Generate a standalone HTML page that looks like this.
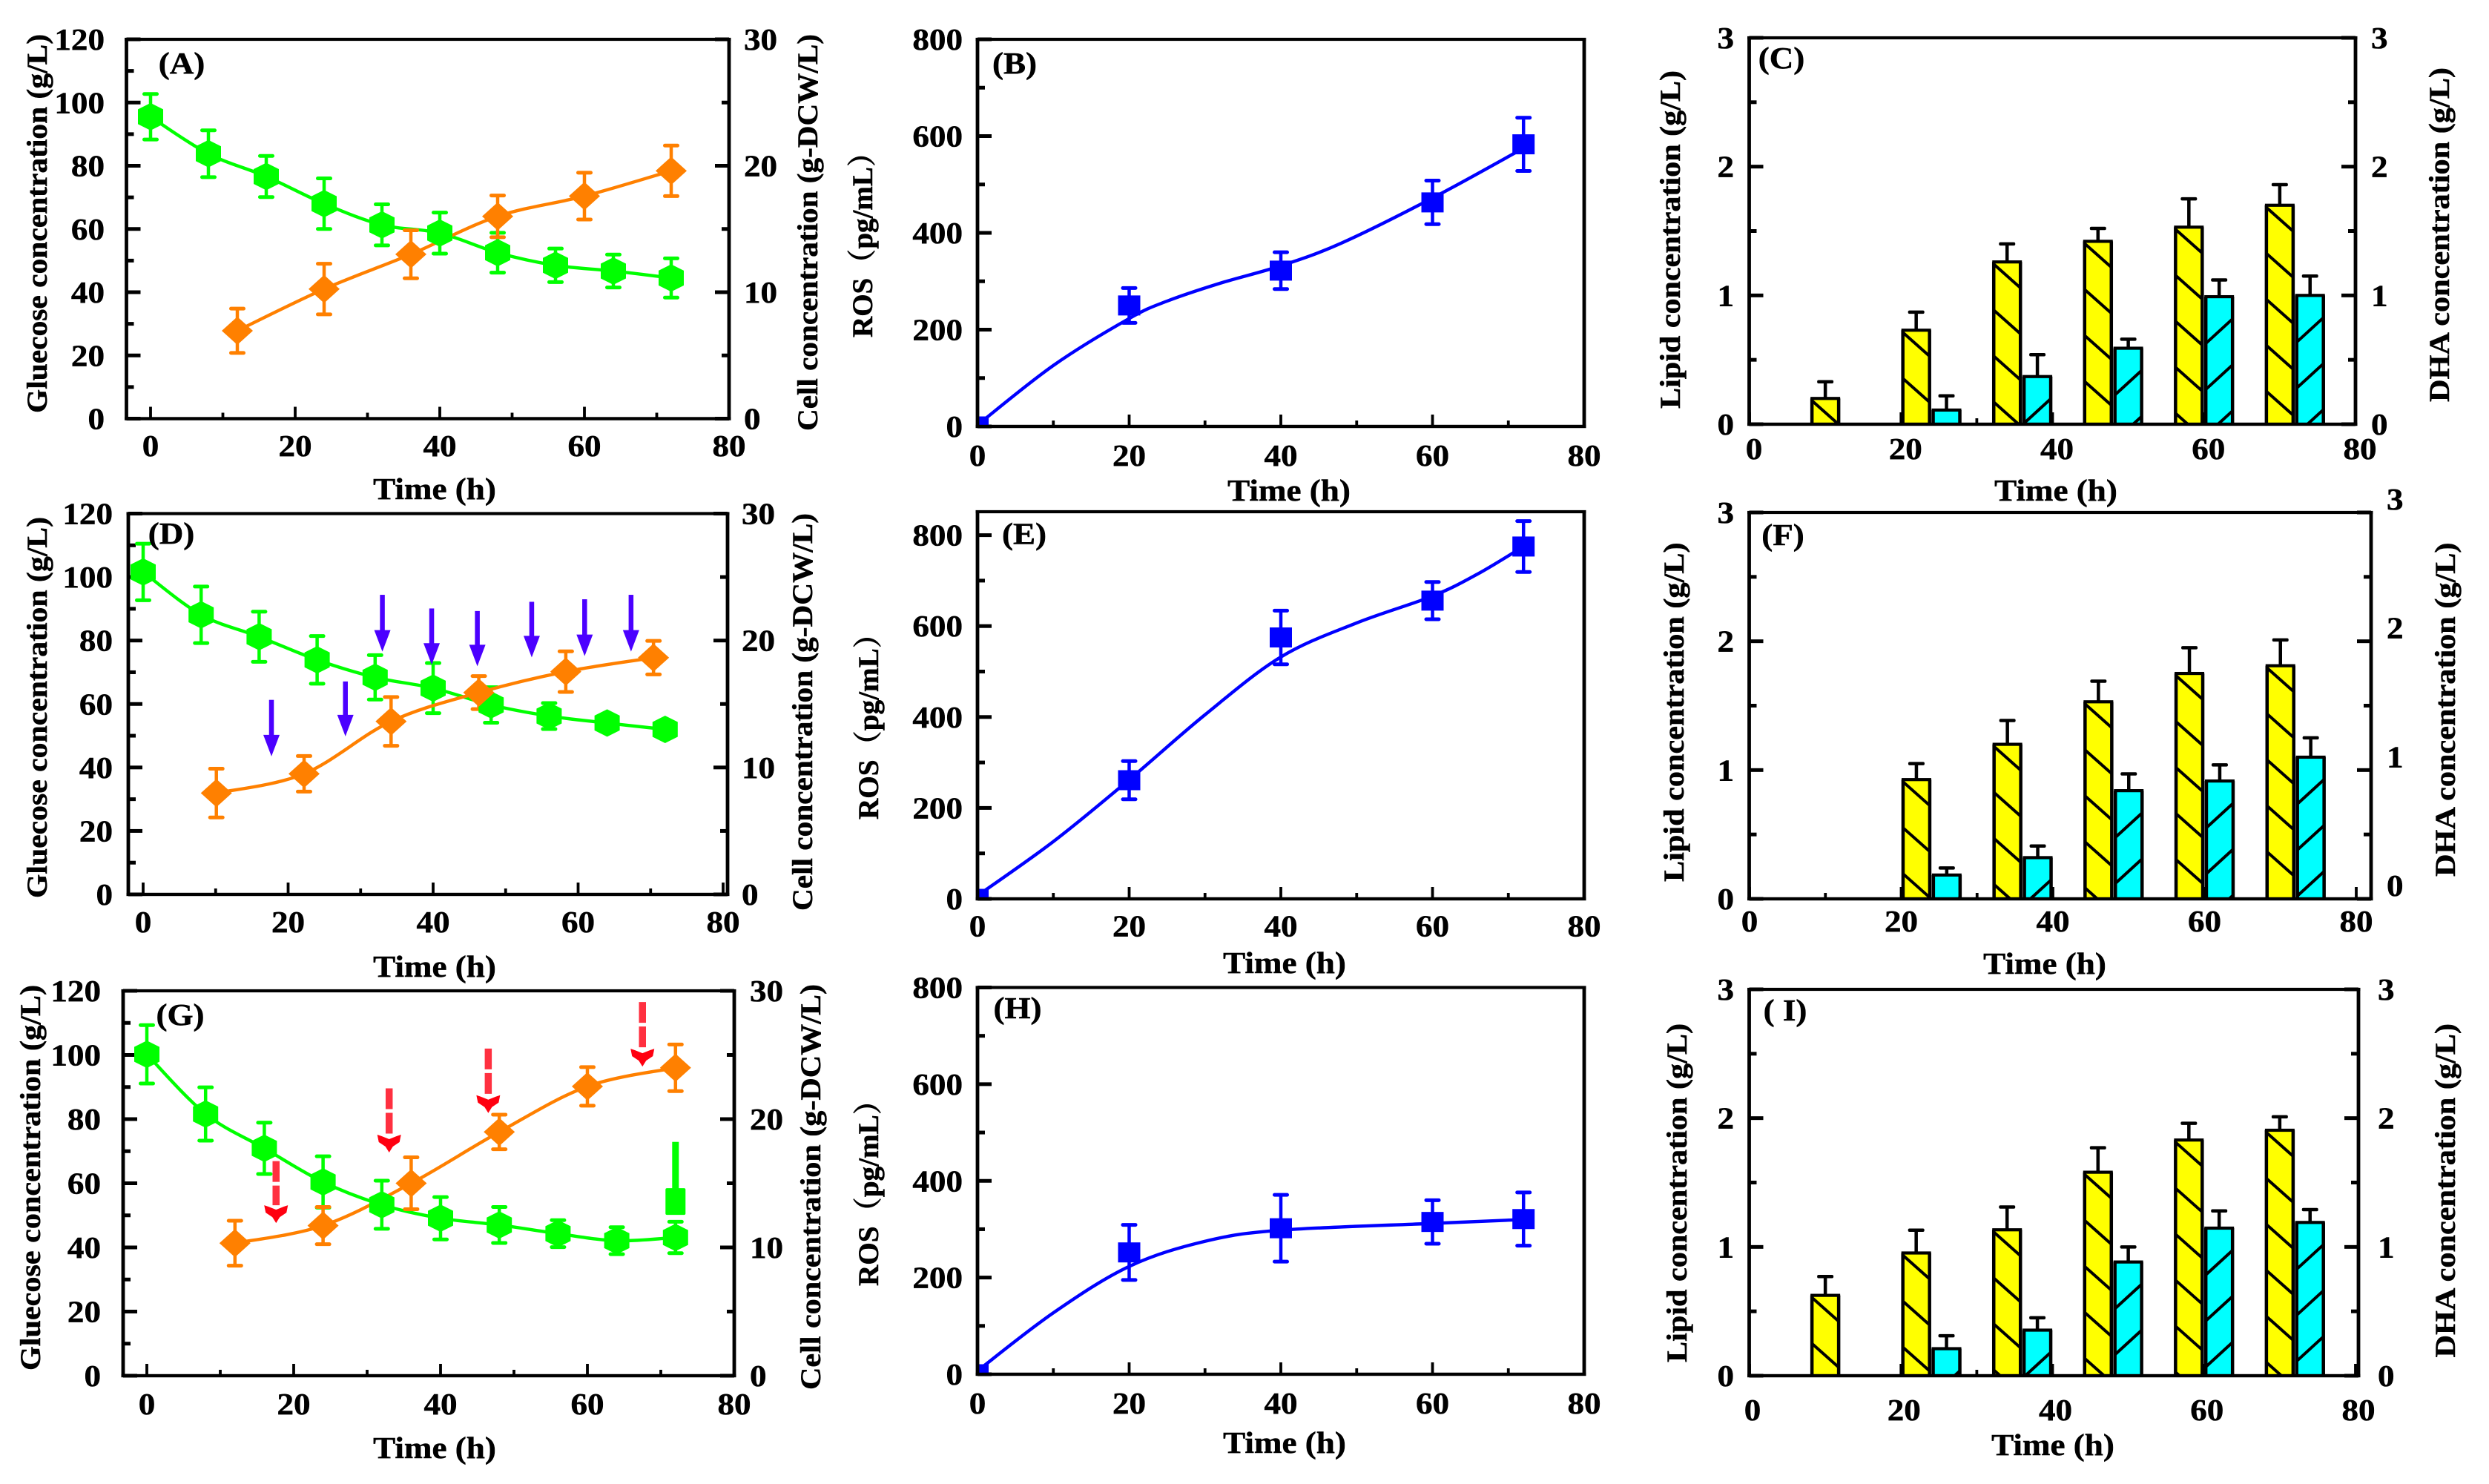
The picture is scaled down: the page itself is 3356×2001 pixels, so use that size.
<!DOCTYPE html>
<html lang="en">
<head>
<meta charset="utf-8">
<title>Fermentation time courses</title>
<style>
html,body{margin:0;padding:0;background:#fff;}
svg{display:block;}
text{font-family:"Liberation Serif","Noto Serif CJK SC",serif;font-weight:bold;fill:#000;stroke:#000;stroke-width:0.5px;}
</style>
</head>
<body>
<svg id="chart" xmlns="http://www.w3.org/2000/svg" width="3356" height="2001" viewBox="0 0 3356 2001">
<rect x="0" y="0" width="3356" height="2001" fill="#fff"/>
</svg>
<script>
// ---- shared tick data
const xMajorTicks = [0, 20, 40, 60, 80];
const xMinorTicks = [10, 30, 50, 70];
const glucoseMajorTicks = [0, 20, 40, 60, 80, 100, 120];
const glucoseMinorTicks = [10, 30, 50, 70, 90, 110];
const cellMajorTicks = [0, 10, 20, 30];
const cellMinorTicks = [5, 15, 25];
const rosMajorTicks = [0, 200, 400, 600, 800];
const rosMinorTicks = [100, 300, 500, 700];
const lipidMajorTicks = [0, 1, 2, 3];
const lipidMinorTicks = [0.5, 1.5, 2.5];

// ---- panel A
const aGlucoseTime = [0, 8, 16, 24, 32, 40, 48, 56, 64, 72];
const aGlucose = [95.5, 83.8, 76.6, 68, 61.3, 58.7, 52.5, 48.5, 46.7, 44.5];
const aGlucoseErr = [7.2, 7.4, 6.5, 8, 6.5, 6.5, 6.3, 5.3, 5.2, 6.2];
const aCellTime = [12, 24, 36, 48, 60, 72];
const aCell = [6.95, 10.25, 13, 16, 17.6, 19.6];
const aCellErr = [1.75, 2, 1.9, 1.65, 1.85, 2];

// ---- panel D
const dGlucoseTime = [0, 8, 16, 24, 32, 40, 48, 56, 64, 72];
const dGlucose = [101.6, 88.1, 81.2, 73.9, 68.4, 65, 59.7, 56.2, 54, 52];
const dGlucoseErr = [8.9, 8.9, 7.9, 7.5, 7, 7.9, 5.6, 4.1, 1.5, 1];
const dCellTime = [10.1, 22.2, 34.2, 46.3, 58.3, 70.4];
const dCell = [7.98, 9.5, 13.63, 15.9, 17.55, 18.65];
const dCellErr = [1.92, 1.4, 1.92, 1.3, 1.6, 1.32];
const dArrowTime = [17.7, 27.9, 33, 39.8, 46.1, 53.6, 60.9, 67.3];
const dArrowFrom = [61.3, 67.1, 94.4, 90.1, 89.3, 92.2, 93, 94.4];
const dArrowTo = [43.5, 49.8, 76.5, 72.4, 71.9, 74.7, 75.1, 76.5];

// ---- panel G
const gGlucoseTime = [0, 8, 16, 24, 32, 40, 48, 56, 64, 72];
const gGlucose = [100.2, 81.6, 70.9, 60.4, 53.3, 49.1, 47, 44.3, 42.1, 43.1];
const gGlucoseErr = [9.1, 8.3, 8, 8, 7.5, 6.6, 5.6, 4.2, 4.2, 4.9];
const gCellTime = [12, 24, 36, 48, 60, 72];
const gCell = [10.33, 11.7, 15, 19, 22.55, 24];
const gCellErr = [1.75, 1.45, 2.02, 1.35, 1.5, 1.82];
const gArrowTime = [17.6, 33, 46.5, 67.5];
const gArrowFrom = [66.9, 89.6, 102, 116.5];
const gArrowTo = [47.6, 69.6, 81.9, 96.4];
const gExtraTime = [72];
const gExtraValue = [54.3];
const gExtraTop = [72.9];

// ---- panels B, E, H
const rosTime = [0, 20, 40, 60, 72];
const bRos = [0, 250, 322, 463, 583];
const bRosErr = [0, 36, 38, 45, 55];
const bFitTime = [0, 10, 20, 25, 32, 40, 48, 60, 72];
const bFitRos = [3, 126, 223, 259, 296, 332, 379, 472, 575];
const eRos = [0, 261, 575, 656, 775];
const eRosErr = [0, 42, 59, 41, 56];
const eFitTime = [0, 10, 20, 30, 40, 50, 60, 66, 72];
const eFitRos = [7, 126, 262, 405, 532, 607, 666, 715, 775];
const hRos = [0, 252, 302, 315, 321];
const hRosErr = [0, 57, 69, 45, 55];
const hFitTime = [0, 10, 20, 30, 40, 60, 72];
const hFitRos = [7, 127, 223, 275, 298, 312, 320];

// ---- panels C, F, I
const cLipidTime = [10, 22, 34, 46, 58, 70];
const cLipid = [0.2, 0.73, 1.26, 1.42, 1.53, 1.7];
const cLipidTop = [0.33, 0.87, 1.4, 1.52, 1.75, 1.86];
const cDhaTime = [26, 38, 50, 62, 74];
const cDha = [0.11, 0.37, 0.59, 0.99, 1.0];
const cDhaTop = [0.22, 0.54, 0.66, 1.12, 1.15];
const fLipidTime = [22, 34, 46, 58, 70];
const fLipid = [0.926, 1.2, 1.53, 1.75, 1.81];
const fLipidTop = [1.05, 1.385, 1.69, 1.95, 2.01];
const fDhaTime = [26, 38, 50, 62, 74];
const fDha = [0.185, 0.32, 0.84, 0.915, 1.1];
const fDhaTop = [0.24, 0.41, 0.97, 1.04, 1.25];
const iLipidTime = [10, 22, 34, 46, 58, 70];
const iLipid = [0.624, 0.953, 1.133, 1.58, 1.83, 1.906];
const iLipidTop = [0.77, 1.13, 1.31, 1.77, 1.96, 2.01];
const iDhaTime = [26, 38, 50, 62, 74];
const iDha = [0.21, 0.354, 0.883, 1.146, 1.19];
const iDhaTop = [0.31, 0.45, 1.0, 1.28, 1.29];

const NS = 'http://www.w3.org/2000/svg';
const svg = document.getElementById('chart');
const GREEN = '#00ff00', ORANGE = '#ff8000', BLUE = '#0000ff', YELLOW = '#ffff00', CYAN = '#00ffff';
const STRETCH = 1.1, FONT = 41;

function mk(tag, name, attrs, parent) {
  const el = document.createElementNS(NS, tag);
  
  
  for (const k in attrs) el.setAttribute(k, attrs[k]);
  (parent || svg).appendChild(el);
  return el;
}
function txt(name, str, x, y, anchor, parent) {
  const el = mk('text', name, {
    transform: 'translate(' + x + ',' + y + ') scale(' + STRETCH + ',1)',
    'text-anchor': anchor, 'font-size': FONT
  }, parent);
  el.textContent = str;
  return el;
}
function vtxt(name, str, t, parent) {
  const el = mk('text', name, {
    transform: 'translate(' + (t.xc + 13) + ',' + ((t.y1 + t.y2) / 2) + ') rotate(-90)',
    'text-anchor': 'middle', 'font-size': 39,
    textLength: t.y2 - t.y1, lengthAdjust: 'spacingAndGlyphs'
  }, parent);
  el.textContent = str;
  return el;
}
function hline(name, x1, x2, y, th, color, parent) {
  return mk('rect', name, {x: Math.min(x1, x2), y: y - th / 2, width: Math.abs(x2 - x1), height: th, fill: color}, parent);
}
function vline(name, x, y1, y2, th, color, parent) {
  return mk('rect', name, {x: x - th / 2, y: Math.min(y1, y2), width: th, height: Math.abs(y2 - y1), fill: color}, parent);
}
function scaleX(p) { return v => p.x0 + v * (p.x80 - p.x0) / 80; }
function scaleY(p, max, yMaxPx) {
  const t = yMaxPx === undefined ? p.top : yMaxPx;
  return v => p.bottom - v * (p.bottom - t) / max;
}
function spline(xs, ys) {
  let d = 'M' + xs[0] + ' ' + ys[0];
  for (let i = 0; i < xs.length - 1; i++) {
    const a = Math.max(i - 1, 0), c = i + 1, e = Math.min(i + 2, xs.length - 1);
    const c1x = xs[i] + (xs[c] - xs[a]) / 6, c1y = ys[i] + (ys[c] - ys[a]) / 6;
    const c2x = xs[c] - (xs[e] - xs[i]) / 6, c2y = ys[c] - (ys[e] - ys[i]) / 6;
    d += ' C' + c1x + ' ' + c1y + ' ' + c2x + ' ' + c2y + ' ' + xs[c] + ' ' + ys[c];
  }
  return d;
}
function curve(name, tv, yv, X, Y, color, parent) {
  return mk('path', name, {d: spline(tv.map(X), yv.map(Y)), fill: 'none', stroke: color, 'stroke-width': 4.4, 'stroke-linejoin': 'round'}, parent);
}
function errBars(name, tv, yv, ev, X, Y, color, parent) {
  tv.forEach((t, i) => {
    if (!ev[i]) return;
    const cx = X(t), hi = Y(yv[i] + ev[i]), lo = Y(yv[i] - ev[i]);
    vline(name + '-stem', cx, hi, lo, 4.5, color, parent);
    const c1 = hline(name + '-cap', cx - 11, cx + 11, hi, 5, color, parent);
    c1.setAttribute('rx', 2.5);
    const c2 = hline(name + '-cap', cx - 11, cx + 11, lo, 5, color, parent);
    c2.setAttribute('rx', 2.5);
  });
}
function hexagons(name, tv, yv, X, Y, color, parent) {
  tv.forEach((t, i) => {
    const x = X(t), y = Y(yv[i]);
    mk('polygon', name, {points: [[0, -18.5], [17, -10], [17, 10], [0, 18.5], [-17, 10], [-17, -10]].map(q => (x + q[0]) + ',' + (y + q[1])).join(' '), fill: color}, parent);
  });
}
function diamonds(name, tv, yv, X, Y, color, parent) {
  tv.forEach((t, i) => {
    const x = X(t), y = Y(yv[i]);
    mk('polygon', name, {points: [[0, -19], [21, 0], [0, 19], [-21, 0]].map(q => (x + q[0]) + ',' + (y + q[1])).join(' '), fill: color}, parent);
  });
}
function squares(name, tv, yv, X, Y, color, parent) {
  tv.forEach((t, i) => {
    mk('rect', name, {x: X(t) - 15, y: Y(yv[i]) - 13.5, width: 30, height: 27, fill: color}, parent);
  });
}
function axes(p, g, X, leftMajor, leftMinor, leftY, rightMajor, rightMinor, rightY) {
  xMajorTicks.forEach(v => vline('x-major-tick', X(v), p.bottom - 16, p.bottom, 3.8, '#000', g));
  xMinorTicks.forEach(v => vline('x-minor-tick', X(v), p.bottom - 8, p.bottom, 3.8, '#000', g));
  leftMajor.forEach(v => hline('left-major-tick', p.left, p.left + 19, leftY(v), 5, '#000', g));
  leftMinor.forEach(v => hline('left-minor-tick', p.left, p.left + 10, leftY(v), 5, '#000', g));
  if (rightMajor) {
    rightMajor.forEach(v => hline('right-major-tick', p.right - 19, p.right, rightY(v), 5, '#000', g));
    rightMinor.forEach(v => hline('right-minor-tick', p.right - 10, p.right, rightY(v), 5, '#000', g));
  }
}
function frame(p, g) {
  hline('frame-top', p.left - 2.5, p.right + 2.5, p.top, 4.2, '#000', g);
  hline('frame-bottom', p.left - 2.5, p.right + 2.5, p.bottom, 4.4, '#000', g);
  vline('frame-left', p.left, p.top, p.bottom, 4.8, '#000', g);
  vline('frame-right', p.right, p.top, p.bottom, 4.8, '#000', g);
}
function labels(p, g, X, leftMajor, leftY, rightMajor, rightY, leftTitle, rightTitle) {
  xMajorTicks.forEach(v => txt('x-tick-label', String(v), X(v) + (p.xLabelDx || 0), p.xLabelY + 14, 'middle', g));
  leftMajor.forEach(v => txt('left-tick-label', String(v), p.leftLabelX, leftY(v) + 14, 'end', g));
  if (rightMajor) rightMajor.forEach(v => txt('right-tick-label', String(v), p.rightLabelX, rightY(v) + 14 + (p.rightLabelDy || 0), 'start', g));
  txt('x-axis-title', 'Time (h)', p.timeX, p.timeY + 12, 'middle', g);
  vtxt('left-axis-title', leftTitle, p.leftTitle, g);
  if (rightTitle) vtxt('right-axis-title', rightTitle, p.rightTitle, g);
  txt('panel-label', p.label, p.labelX, p.labelY + 12, 'middle', g);
}
function growthPanel(p, glT, gl, glE, ceT, ce, ceE) {
  const g = mk('g', 'panel-' + p.id, {});
  const X = scaleX(p), YL = scaleY(p, 120), YR = scaleY(p, 30);
  axes(p, g, X, glucoseMajorTicks, glucoseMinorTicks, YL, cellMajorTicks, cellMinorTicks, YR);
  errBars('glucose-error-bar', glT, gl, glE, X, YL, GREEN, g);
  curve('glucose-line', glT, gl, X, YL, GREEN, g);
  errBars('cell-error-bar', ceT, ce, ceE, X, YR, ORANGE, g);
  curve('cell-line', ceT, ce, X, YR, ORANGE, g);
  hexagons('glucose-point', glT, gl, X, YL, GREEN, g);
  diamonds('cell-point', ceT, ce, X, YR, ORANGE, g);
  frame(p, g);
  labels(p, g, X, glucoseMajorTicks, YL, cellMajorTicks, YR, 'Gluecose concentration (g/L)', 'Cell concentration (g-DCW/L)');
  return {g, X, YL};
}
function rosPanel(p, rv, re, fitT, fitV) {
  const g = mk('g', 'panel-' + p.id, {});
  const X = scaleX(p), Y = scaleY(p, 800, p.y800);
  const clip = mk('clipPath', 'plot-clip', {id: 'clip-' + p.id}, g);
  mk('rect', 'plot-clip-area', {x: p.left, y: p.top, width: p.right - p.left, height: p.bottom - p.top}, clip);
  axes(p, g, X, rosMajorTicks, rosMinorTicks, Y);
  const plot = mk('g', 'ros-series', {'clip-path': 'url(#clip-' + p.id + ')'}, g);
  errBars('ros-error-bar', rosTime, rv, re, X, Y, BLUE, plot);
  curve('ros-fit-line', fitT, fitV, X, Y, BLUE, plot);
  squares('ros-point', rosTime, rv, X, Y, BLUE, plot);
  frame(p, g);
  labels(p, g, X, rosMajorTicks, Y, null, null, p.rosTitle, null);
}
function hatch(name, x1, x2, top, bottom, forward, parent) {
  const W = x2 - x1, STEP = 62, RISE = forward ? 32 : 33;
  const start = forward ? top + 3 : top + 30;
  for (let y = start; y < bottom; y += STEP) {
    let ya = y, yb = y + RISE, t = 1;
    if (yb > bottom) { t = (bottom - ya) / (yb - ya); yb = bottom; }
    const xa = forward ? x1 : x2;
    const xb = forward ? x1 + W * t : x2 - W * t;
    mk('line', name, {x1: xa, y1: ya, x2: xb, y2: yb, stroke: '#000', 'stroke-width': 4}, parent);
  }
}
function bars(name, tv, vv, topv, X, Y, fill, forward, p, parent) {
  tv.forEach((t, i) => {
    const cx = X(t), hw = 18, y = Y(vv[i]), e = Y(topv[i]);
    vline(name + '-error-stem', cx, e, y, 4.5, '#000', parent);
    const cap = hline(name + '-error-cap', cx - 11, cx + 11, e, 4.5, '#000', parent);
    cap.setAttribute('rx', 2);
    mk('rect', name + '-bar', {x: cx - hw, y: y, width: 2 * hw, height: p.bottom - y, fill: fill}, parent);
    hatch(name + '-hatch', cx - hw, cx + hw, y, p.bottom, forward, parent);
    hline(name + '-bar-top', cx - hw - 2, cx + hw + 2, y, 4.2, '#000', parent);
    vline(name + '-bar-left', cx - hw, y, p.bottom, 4.5, '#000', parent);
    vline(name + '-bar-right', cx + hw, y, p.bottom, 4.5, '#000', parent);
  });
}
function lipidPanel(p, lT, l, lTop, dT, d, dTop) {
  const g = mk('g', 'panel-' + p.id, {});
  const X = scaleX(p), Y = scaleY(p, 3);
  axes(p, g, X, lipidMajorTicks, lipidMinorTicks, Y, lipidMajorTicks, lipidMinorTicks, Y);
  bars('dha', dT, d, dTop, X, Y, CYAN, false, p, g);
  bars('lipid', lT, l, lTop, X, Y, YELLOW, true, p, g);
  frame(p, g);
  labels(p, g, X, lipidMajorTicks, Y, lipidMajorTicks, Y, 'Lipid concentration (g/L)', 'DHA concentration (g/L)');
}

// ---- first column
growthPanel({id: 'a', left: 170.5, right: 983, top: 53, bottom: 564.5, x0: 203, x80: 983,
  leftLabelX: 141, rightLabelX: 1003, xLabelY: 601, timeX: 586, timeY: 661,
  leftTitle: {xc: 50, y1: 46, y2: 557}, rightTitle: {xc: 1089, y1: 46, y2: 581},
  label: '(A)', labelX: 245, labelY: 87}, aGlucoseTime, aGlucose, aGlucoseErr, aCellTime, aCell, aCellErr);

const panelD = growthPanel({id: 'd', left: 173, right: 981, top: 692.5, bottom: 1206, x0: 193, x80: 975,
  leftLabelX: 152, rightLabelX: 1000, xLabelY: 1243, timeX: 586, timeY: 1305,
  leftTitle: {xc: 50, y1: 697, y2: 1211}, rightTitle: {xc: 1082, y1: 692, y2: 1228},
  label: '(D)', labelX: 231, labelY: 721}, dGlucoseTime, dGlucose, dGlucoseErr, dCellTime, dCell, dCellErr);
dArrowTime.forEach((t, i) => {
  const x = panelD.X(t), y1 = panelD.YL(dArrowFrom[i]), y2 = panelD.YL(dArrowTo[i]);
  vline('purple-arrow-shaft', x, y1, y2 - 26, 6.5, '#4b00ff', panelD.g);
  mk('polygon', 'purple-arrow-head', {points: (x - 11) + ',' + (y2 - 29) + ' ' + (x + 11) + ',' + (y2 - 29) + ' ' + x + ',' + y2, fill: '#4b00ff'}, panelD.g);
});

const panelG = growthPanel({id: 'g', left: 166, right: 990, top: 1336, bottom: 1855, x0: 198, x80: 990,
  leftLabelX: 136, rightLabelX: 1011, xLabelY: 1893, timeX: 586, timeY: 1954,
  leftTitle: {xc: 41, y1: 1328, y2: 1848}, rightTitle: {xc: 1093, y1: 1327, y2: 1874},
  label: '(G)', labelX: 243, labelY: 1370}, gGlucoseTime, gGlucose, gGlucoseErr, gCellTime, gCell, gCellErr);
gArrowTime.forEach((t, i) => {
  const x = panelG.X(t), y1 = panelG.YL(gArrowFrom[i]), y2 = panelG.YL(gArrowTo[i]);
  mk('line', 'red-arrow-shaft', {x1: x, y1: y1, x2: x, y2: y2 - 24, stroke: '#ff3040', 'stroke-width': 9.5, 'stroke-dasharray': '28 5'}, panelG.g);
  mk('polygon', 'red-arrow-head', {points: [[-16, -24], [-10, -22], [0, -18], [10, -22], [16, -24], [14, -14], [5, -8], [0, 0], [-5, -8], [-14, -14]].map(q => (x + q[0]) + ',' + (y2 + q[1])).join(' '), fill: '#ff0010'}, panelG.g);
});
gExtraTime.forEach((t, i) => {
  const x = panelG.X(t), y = panelG.YL(gExtraValue[i]), top = panelG.YL(gExtraTop[i]);
  vline('extra-green-stem', x, top, y, 9, GREEN, panelG.g);
  const box = mk('rect', 'extra-green-marker', {x: x - 13.5, y: y - 18, width: 27, height: 36, fill: GREEN}, panelG.g);
  box.setAttribute('rx', 2);
});

// ---- second column
rosPanel({id: 'b', left: 1318, right: 2136, top: 53, bottom: 575, x0: 1318, x80: 2136,
  leftLabelX: 1298, xLabelY: 614, timeX: 1738, timeY: 663, rosTitle: 'ROS（pg/mL）',
  leftTitle: {xc: 1163, y1: 186, y2: 455}, label: '(B)', labelX: 1368, labelY: 87}, bRos, bRosErr, bFitTime, bFitRos);
rosPanel({id: 'e', left: 1318, right: 2136, top: 690, bottom: 1212, x0: 1318, x80: 2136, y800: 721.6,
  leftLabelX: 1298, xLabelY: 1248.5, timeX: 1732, timeY: 1300, rosTitle: 'ROS（pg/mL）',
  leftTitle: {xc: 1171, y1: 835, y2: 1105}, label: '(E)', labelX: 1381, labelY: 721.6}, eRos, eRosErr, eFitTime, eFitRos);
rosPanel({id: 'h', left: 1318, right: 2136, top: 1331.5, bottom: 1853, x0: 1318, x80: 2136,
  leftLabelX: 1298, xLabelY: 1892, timeX: 1732, timeY: 1947, rosTitle: 'ROS（pg/mL）',
  leftTitle: {xc: 1171, y1: 1464, y2: 1734}, label: '(H)', labelX: 1372, labelY: 1361}, hRos, hRosErr, hFitTime, hFitRos);

// ---- third column
lipidPanel({id: 'c', left: 2358.5, right: 3176, top: 51, bottom: 572, x0: 2359, x80: 3176, xLabelDx: 6,
  leftLabelX: 2338, rightLabelX: 3197, xLabelY: 605, timeX: 2772, timeY: 663,
  leftTitle: {xc: 2252, y1: 95, y2: 551}, rightTitle: {xc: 3289, y1: 91, y2: 542},
  label: '(C)', labelX: 2402, labelY: 80}, cLipidTime, cLipid, cLipidTop, cDhaTime, cDha, cDhaTop);
lipidPanel({id: 'f', left: 2358.5, right: 3197, top: 691, bottom: 1212, x0: 2359, x80: 3177, rightLabelDy: -18,
  leftLabelX: 2338, rightLabelX: 3218, xLabelY: 1242, timeX: 2757, timeY: 1301,
  leftTitle: {xc: 2257, y1: 731.5, y2: 1189}, rightTitle: {xc: 3297, y1: 731.5, y2: 1182},
  label: '(F)', labelX: 2404, labelY: 723}, fLipidTime, fLipid, fLipidTop, fDhaTime, fDha, fDhaTop);
lipidPanel({id: 'i', left: 2358.5, right: 3180, top: 1334, bottom: 1855, x0: 2359, x80: 3176, xLabelDx: 4,
  leftLabelX: 2338, rightLabelX: 3206, xLabelY: 1901, timeX: 2768, timeY: 1950,
  leftTitle: {xc: 2261, y1: 1380, y2: 1837}, rightTitle: {xc: 3297, y1: 1380, y2: 1830.5},
  label: '( I)', labelX: 2407, labelY: 1364}, iLipidTime, iLipid, iLipidTop, iDhaTime, iDha, iDhaTop);
</script>
</body>
</html>
